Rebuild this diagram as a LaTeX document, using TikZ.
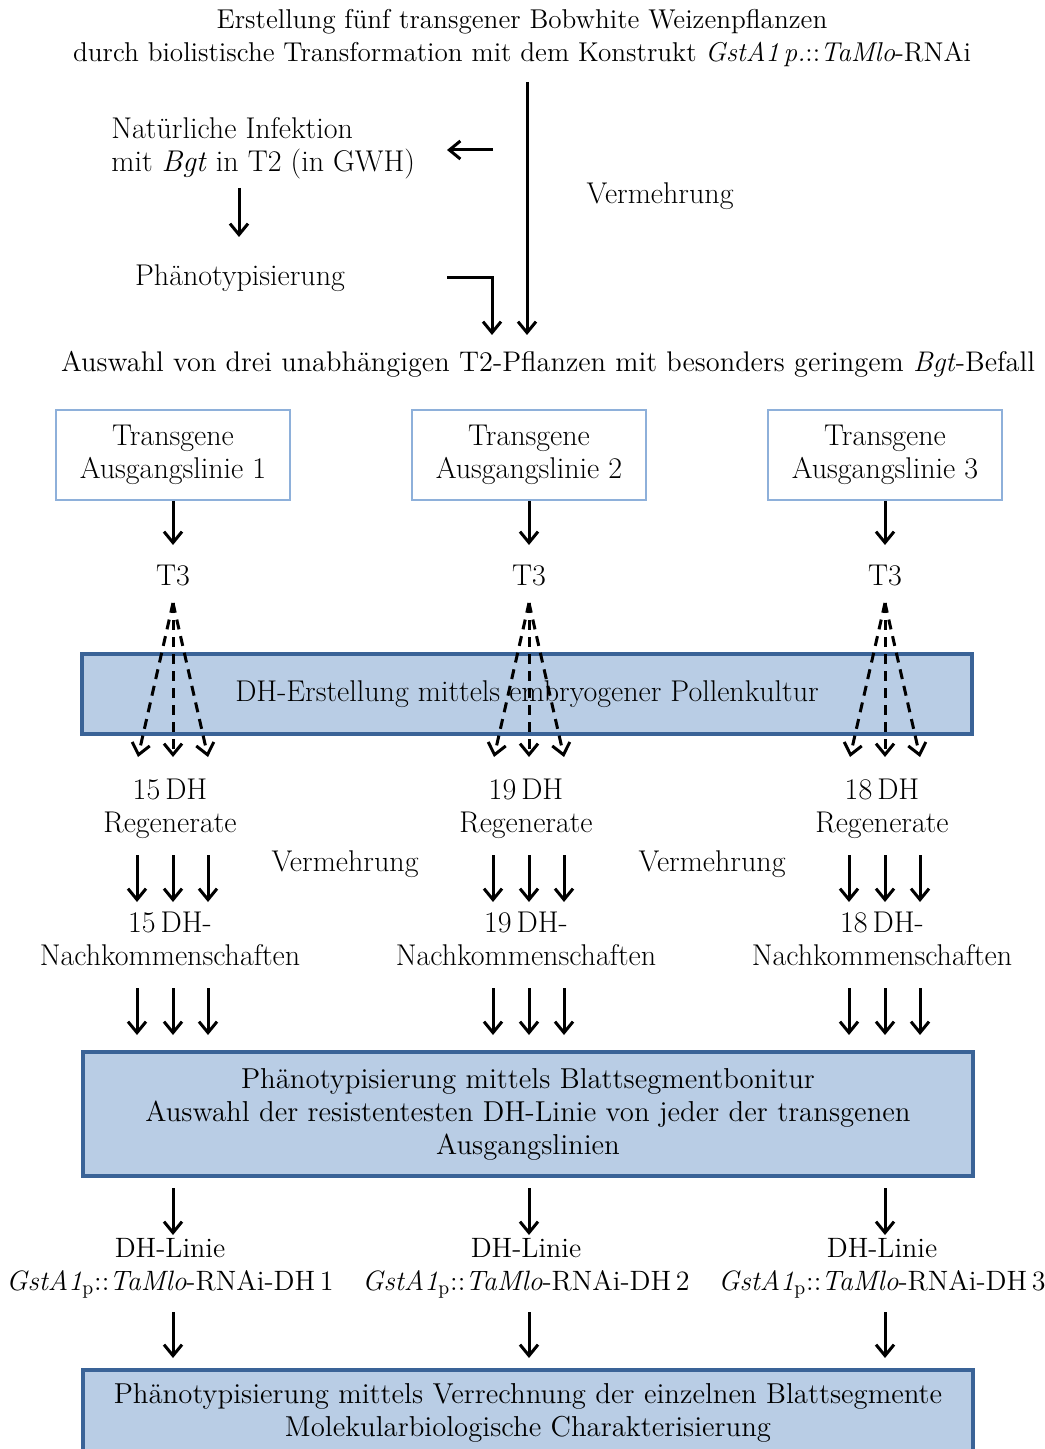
\documentclass[tikz,border=0pt]{standalone}
\usetikzlibrary{arrows.meta}
\definecolor{bandfill}{HTML}{B9CDE5}
\definecolor{banddraw}{HTML}{3A6397}
\definecolor{boxdraw}{HTML}{8EB0DA}
\newcommand{\gst}{\textit{GstA1}\textsubscript{p}::\textit{TaMlo}}
\begin{document}
\begin{tikzpicture}[x=0.5pt,y=-0.5pt,
  every node/.style={font=\fontsize{15}{16.5}\selectfont, inner sep=0pt, align=center},
  arr/.style={line width=1.5pt, -{Straight Barb[length=5.5pt,width=9pt,line width=1.5pt]}},
  darr/.style={arr, dash pattern=on 5pt off 3.5pt},
  srcbox/.style={draw=boxdraw, line width=0.8pt, fill=white, minimum width=117pt, minimum height=45pt},
  band/.style={draw=banddraw, line width=1.6pt, fill=bandfill, minimum width=445pt}
]
\useasboundingbox (0,0) rectangle (1044,1449);
\clip (0,0) rectangle (1044,1449);

% header and selection
\node (title) at (522,38) {\fontsize{13.6}{16.5}\selectfont Erstellung fünf transgener Bobwhite Weizenpflanzen\\
  \fontsize{13.6}{16.5}\selectfont durch biolistische Transformation mit dem Konstrukt \textit{GstA1\,p.}::\textit{TaMlo}-RNAi};
\node[anchor=west, align=left] (inf) at (111,148) {Natürliche Infektion\\ mit \textit{Bgt} in T2 (in GWH)};
\node (pheno) at (240,278) {Phänotypisierung};
\node (verm0) at (660,196) {Vermehrung};
\node (sel) at (548,364) {\fontsize{14.2}{16.5}\selectfont Auswahl von drei unabhängigen T2-Pflanzen mit besonders geringem \textit{Bgt}-Befall};

\coordinate (mtop) at (527,82);
\coordinate (mbot) at (527,335);
\coordinate (lstart) at (493,150);
\coordinate (lend) at (447,150);
\coordinate (dtop) at (239,188);
\coordinate (dbot) at (239,237);
\coordinate (pstart) at (447,278);
\coordinate (pend) at (492,335);
\draw[arr] (mtop) -- (mbot);
\draw[arr] (lstart) -- (lend);
\draw[arr] (dtop) -- (dbot);
\draw[arr] (pstart) -| (pend);

% DH band
\node[band, minimum height=40pt] (dhband) at (527,694) {DH-Erstellung mittels embryogener Pollenkultur};

% three columns
\foreach \i/\x/\n in {1/173/15, 2/529/19, 3/885/18}{
  \node[srcbox] (src\i) at (\x,455) {Transgene\\ Ausgangslinie \i};
  \node (t\i) at (\x,576) {T3};
  \coordinate (apex\i) at (\x,603);
  \draw[arr] (src\i.south) -- (\x,545);
  \foreach \dx in {-35,0,35}{
    \draw[darr] (apex\i) -- (\x+\dx,757);
  }
  \node (reg\i) at (\x-3,809) {\n\,DH\\ Regenerate};
  \node (nach\i) at (\x-3,939) {\n\,DH-\\ Nachkommenschaften};
  \foreach \dx in {-36,0,35}{
    \draw[arr] (\x+\dx,855) -- (\x+\dx,902);
    \draw[arr] (\x+\dx,988) -- (\x+\dx,1035);
  }
}
\node (verm1) at (345,864) {Vermehrung};
\node (verm2) at (712,864) {Vermehrung};

% first phenotyping box
\node[band, minimum height=62pt] (blatt) at (528,1114) {\fontsize{14.4}{17}\selectfont Phänotypisierung mittels Blattsegmentbonitur\\
  \fontsize{14.4}{17}\selectfont Auswahl der resistentesten DH-Linie von jeder der transgenen\\
  \fontsize{14.4}{17}\selectfont Ausgangslinien};

\foreach \i/\x in {1/173, 2/529, 3/885}{
  \draw[arr] (\x,1188) -- (\x,1235);
  \node (line\i) at (\x-3,1268) {\fontsize{14}{15.5}\selectfont DH-Linie\\ \fontsize{14}{15.5}\selectfont \gst-RNAi-DH\,\i};
  \draw[arr] (\x,1312) -- (\x,1358);
}

% final box
\node[band, minimum height=43pt] (final) at (528,1413) {\fontsize{14.4}{16.5}\selectfont Phänotypisierung mittels Verrechnung der einzelnen Blattsegmente\\
  \fontsize{14.4}{16.5}\selectfont Molekularbiologische Charakterisierung};
\end{tikzpicture}
\end{document}
